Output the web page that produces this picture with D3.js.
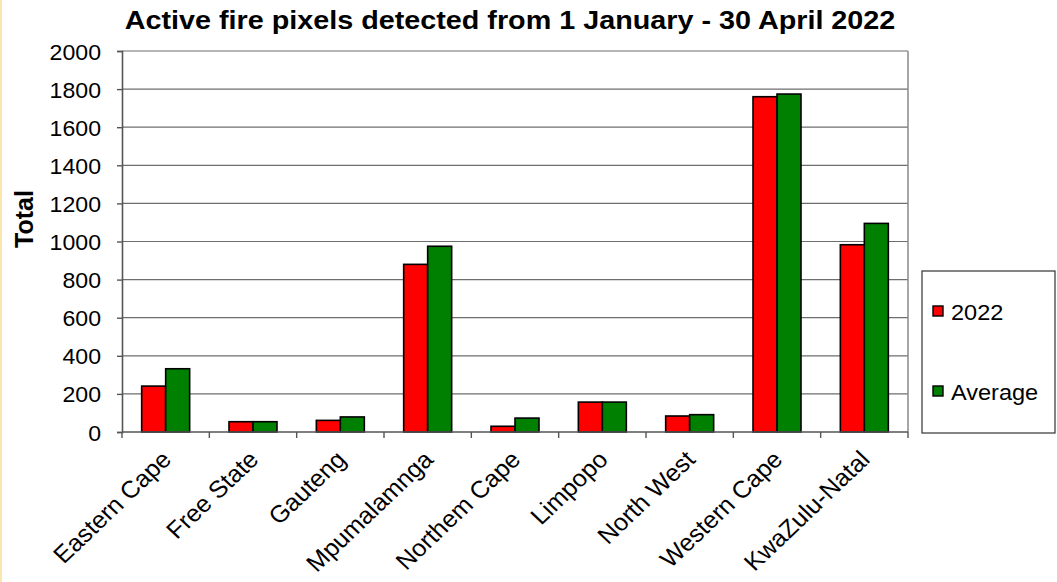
<!DOCTYPE html>
<html>
<head>
<meta charset="utf-8">
<script src="https://cdn.jsdelivr.net/npm/d3@7"></script>
<style>
  body { margin: 0; background: #fff; }
  svg text { font-family: Arial, "Liberation Sans", sans-serif; fill: #000; }
</style>
</head>
<body>
<div id="chart"></div>
<script>
var categories = ["Eastern Cape", "Free State", "Gauteng", "Mpumalamnga", "Northem Cape",
	"Limpopo", "North West", "Western Cape", "KwaZulu-Natal"]
var series = ["2022", "Average"]
var values2022 = [241, 54, 61, 880, 30, 157, 84, 1760, 983]
var valuesAvg = [332, 54, 79, 975, 73, 157, 91, 1774, 1095]
var yTicks = [0, 200, 400, 600, 800, 1000, 1200, 1400, 1600, 1800, 2000]
var colors = ["#ff0000", "#008000"]

var w = 1057, h = 582,
	margins = {top: 51, bottom: 432, left: 122, right: 908}

var svg = d3.select("#chart").append("svg")
	.attr("width", w)
	.attr("height", h)

// pale frame edge on the left
svg.append("line")
	.attr("x1", 1).attr("x2", 1).attr("y1", 0).attr("y2", h)
	.attr("stroke", "#fce6ad").attr("stroke-width", 2)

var x = d3.scaleBand()
	.domain(categories)
	.range([margins.left, margins.right])
	.padding(0)

var xs = d3.scaleBand()
	.domain(series)
	.range([0, x.bandwidth()])
	.paddingInner(0)
	.paddingOuter(0.82)

var y = d3.scaleLinear()
	.domain([0, 2000])
	.range([margins.bottom, margins.top])

// gridlines
svg.append("g")
	.selectAll("line")
	.data(yTicks.slice(1))
	.enter()
	.append("line")
	.attr("x1", margins.left).attr("x2", margins.right)
	.attr("y1", d => y(d)).attr("y2", d => y(d))
	.attr("stroke", "#6e6e6e").attr("stroke-width", 1.2)

// right border of plot
svg.append("line")
	.attr("x1", margins.right).attr("x2", margins.right)
	.attr("y1", margins.top).attr("y2", margins.bottom)
	.attr("stroke", "#8a8a8a").attr("stroke-width", 1.5)

// bars
var rows = categories.map((c, i) => ({cat: c, vals: [values2022[i], valuesAvg[i]]}))
var groups = svg.append("g")
	.selectAll("g")
	.data(rows)
	.enter()
	.append("g")
	.attr("transform", d => "translate(" + x(d.cat) + ",0)")

groups.selectAll("rect")
	.data(d => d.vals.map((v, j) => ({s: series[j], v: v, j: j})))
	.enter()
	.append("rect")
	.attr("x", d => xs(d.s))
	.attr("y", d => y(d.v))
	.attr("width", xs.bandwidth())
	.attr("height", d => y(0) - y(d.v))
	.attr("fill", d => colors[d.j])
	.attr("stroke", "#000")
	.attr("stroke-width", 1.6)

// y axis
var yAxis = d3.axisLeft(y).tickValues(yTicks).tickSize(5).tickPadding(0).tickFormat(d3.format("d"))
var gy = svg.append("g")
	.attr("transform", "translate(" + margins.left + ",0)")
	.call(yAxis)
gy.select(".domain").attr("stroke", "#555").attr("stroke-width", 1.6)
gy.selectAll(".tick line").attr("stroke", "#555").attr("stroke-width", 1.4)
gy.selectAll(".tick text")
	.attr("x", null)
	.attr("dy", null)
	.attr("transform", "translate(-21,8) scale(1.05,1)")
	.attr("font-family", null)
	.style("font-size", "22px")

// x axis with ticks at category boundaries
svg.append("line")
	.attr("x1", margins.left).attr("x2", margins.right)
	.attr("y1", margins.bottom).attr("y2", margins.bottom)
	.attr("stroke", "#555").attr("stroke-width", 1.6)

var bounds = categories.map(c => x(c)).concat([margins.right])
svg.append("g")
	.selectAll("line")
	.data(bounds)
	.enter()
	.append("line")
	.attr("x1", d => d).attr("x2", d => d)
	.attr("y1", margins.bottom).attr("y2", margins.bottom + 6)
	.attr("stroke", "#555").attr("stroke-width", 1.4)

svg.append("g")
	.selectAll("text")
	.data(categories)
	.enter()
	.append("text")
	.attr("transform", d => "translate(" + (x(d) + x.bandwidth() / 2 + 7) + "," + (margins.bottom + 29) + ") scale(1.05,1) rotate(-45)")
	.style("text-anchor", "end")
	.style("font-size", "24px")
	.text(d => d)

// title
svg.append("text")
	.attr("transform", "translate(510,29) scale(1.15,1)")
	.style("text-anchor", "middle")
	.style("font-size", "25px")
	.style("font-weight", "bold")
	.text("Active fire pixels detected from 1 January - 30 April 2022")

// y label
svg.append("text")
	.attr("transform", "translate(33,219) rotate(-90)")
	.style("text-anchor", "middle")
	.style("font-size", "25px")
	.style("font-weight", "bold")
	.text("Total")

// legend
var legend = svg.append("g")
legend.append("rect")
	.attr("x", 922).attr("y", 271)
	.attr("width", 133).attr("height", 162)
	.attr("fill", "#fff")
	.attr("stroke", "#333").attr("stroke-width", 1.2)

var items = legend.selectAll("g.item")
	.data(series)
	.enter()
	.append("g")
	.attr("class", "item")
	.attr("transform", (d, i) => "translate(933," + (306 + i * 80) + ")")

items.append("rect")
	.attr("width", 10).attr("height", 10)
	.attr("fill", (d, i) => colors[i])
	.attr("stroke", "#000").attr("stroke-width", 1.4)

items.append("text")
	.attr("transform", "translate(18,14) scale(1.07,1)")
	.style("font-size", "22px")
	.text(d => d)
</script>
</body>
</html>
